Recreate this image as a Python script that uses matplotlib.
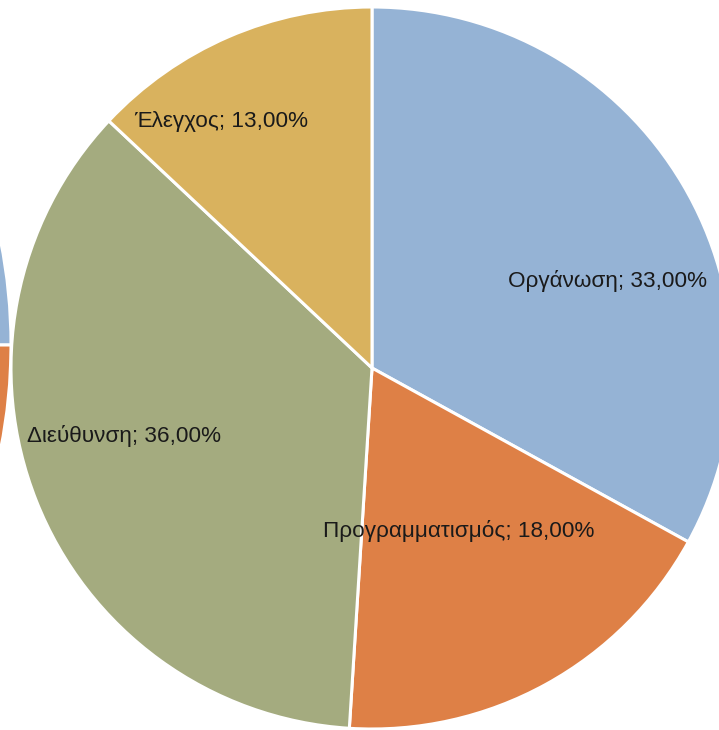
"""
Pie chart of management functions (Greek labels), cropped view.
"""

import matplotlib

matplotlib.use("Agg")
import matplotlib.pyplot as plt

# main pie data
categories = ["Οργάνωση", "Προγραμματισμός", "Διεύθυνση", "Έλεγχος"]
shares = [33.0, 18.0, 36.0, 13.0]
colors = ["#95B3D5", "#DE8046", "#A4AB7F", "#D9B25E"]

# partial pie visible at the left edge (only two slices show)
side_shares = [25.0, 25.0, 30.0, 20.0]

# label anchor points in pixel space (x, y from top)
label_pos = [(607, 281), (459, 531), (124, 436), (221, 121)]

W, H = 719, 730


def main():
    plt.rcParams["font.family"] = ["Liberation Sans", "DejaVu Sans"]

    fig = plt.figure(figsize=(W / 100, H / 100), dpi=100)
    ax = fig.add_axes([0, 0, 1, 1])

    wedge_style = {"edgecolor": "white", "linewidth": 2.2}

    # neighbouring chart, mostly off-canvas
    ax.pie(side_shares, colors=colors, startangle=90, counterclock=False,
           center=(-520, H - 345), radius=531, wedgeprops=wedge_style,
           frame=True)

    ax.pie(shares, colors=colors, startangle=90, counterclock=False,
           center=(372, H - 368), radius=361, wedgeprops=wedge_style,
           frame=True)

    for cat, val, (x, y) in zip(categories, shares, label_pos):
        txt = f"{cat}; {val:.2f}%".replace(".", ",")
        ax.text(x, H - y, txt, ha="center", va="center",
                fontsize=16.2, color="#1a1a1a")

    ax.set_xlim(0, W)
    ax.set_ylim(0, H)
    ax.set_aspect("equal")
    ax.axis("off")
    fig.savefig("out.png", dpi=100)
    plt.close(fig)


if __name__ == "__main__":
    main()
